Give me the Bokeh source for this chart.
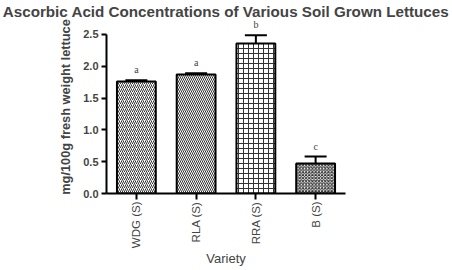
import math
from bokeh.plotting import figure
from bokeh.models import (ColumnDataSource, Whisker, TeeHead, Range1d, FactorRange, Title,
                          NumeralTickFormatter, LabelSet)
from bokeh.embed import file_html
from bokeh.resources import INLINE

categories = ["WDG (S)", "RLA (S)", "RRA (S)", "B (S)"]
means = [1.76, 1.87, 2.36, 0.47]
errors = [0.02, 0.02, 0.13, 0.11]
letters = ["a", "a", "b", "c"]
hatches = ["/", "\\", "+", "x"]
y_ticks = [0.0, 0.5, 1.0, 1.5, 2.0, 2.5]

upper = [m + e for m, e in zip(means, errors)]
src = ColumnDataSource(dict(cat=categories, mean=means, upper=upper, letter=letters,
                            hatch=hatches, scale=[4, 4, 5, 3.2]))

FONT = "Liberation Sans"

p = figure(x_range=FactorRange(*categories, range_padding=0),
           y_range=Range1d(0, 2.72), width=452, height=270,
           output_backend="svg", toolbar_location=None,
           min_border_left=106, min_border_right=107, min_border_top=0, min_border_bottom=77)
p.title = Title(text="Ascorbic Acid Concentrations of Various Soil Grown Lettuces",
                text_font=FONT, text_font_size="15.2px", text_font_style="bold",
                align="center", standoff=1, offset=-6)

p.vbar(x="cat", top="mean", bottom=0, width=0.65, source=src,
       fill_color="white", line_color="black", line_width=2,
       hatch_pattern="hatch", hatch_color="#333333", hatch_scale="scale", hatch_weight=1)

w = Whisker(base="cat", upper="upper", lower="mean", source=src, dimension="height",
            line_color="black", line_width=2,
            upper_head=TeeHead(size=22, line_color="black", line_width=2),
            lower_head=None)
p.add_layout(w)

labels = LabelSet(x="cat", y="upper", text="letter", source=src, text_align="center",
                  text_baseline="bottom", y_offset=5, text_font="Liberation Sans",
                  text_font_size="10px", text_color="#444444")
p.add_layout(labels)

p.xgrid.visible = False
p.ygrid.visible = False
p.outline_line_color = None

p.yaxis.bounds = (0, 2.5)
p.yaxis.ticker = y_ticks
p.yaxis.formatter = NumeralTickFormatter(format="0.0")
p.yaxis.minor_tick_line_color = None
p.yaxis.axis_line_width = 2
p.yaxis.major_tick_line_width = 2
p.yaxis.major_tick_in = 0
p.yaxis.major_tick_out = 5
p.yaxis.major_label_text_font = FONT
p.yaxis.major_label_text_font_size = "11px"
p.yaxis.major_label_text_font_style = "bold"
p.yaxis.major_label_standoff = 3
p.yaxis.axis_label = "mg/100g fresh weight lettuce"
p.yaxis.axis_label_text_font = FONT
p.yaxis.axis_label_text_font_size = "12.8px"
p.yaxis.axis_label_text_font_style = "bold"
p.yaxis.axis_label_standoff = 7

p.xaxis.axis_line_width = 2
p.xaxis.major_tick_line_width = 2
p.xaxis.major_tick_in = 0
p.xaxis.major_tick_out = 6
p.xaxis.major_label_orientation = math.pi / 2
p.xaxis.major_label_text_font = FONT
p.xaxis.major_label_text_font_size = "11.5px"
p.xaxis.major_label_standoff = 2
p.xaxis.axis_label = "Variety"
p.xaxis.axis_label_text_font = FONT
p.xaxis.axis_label_text_font_size = "13px"
p.xaxis.axis_label_text_font_style = "normal"
p.xaxis.axis_label_standoff = 0

open("out.html", "w").write(file_html(p, INLINE))
